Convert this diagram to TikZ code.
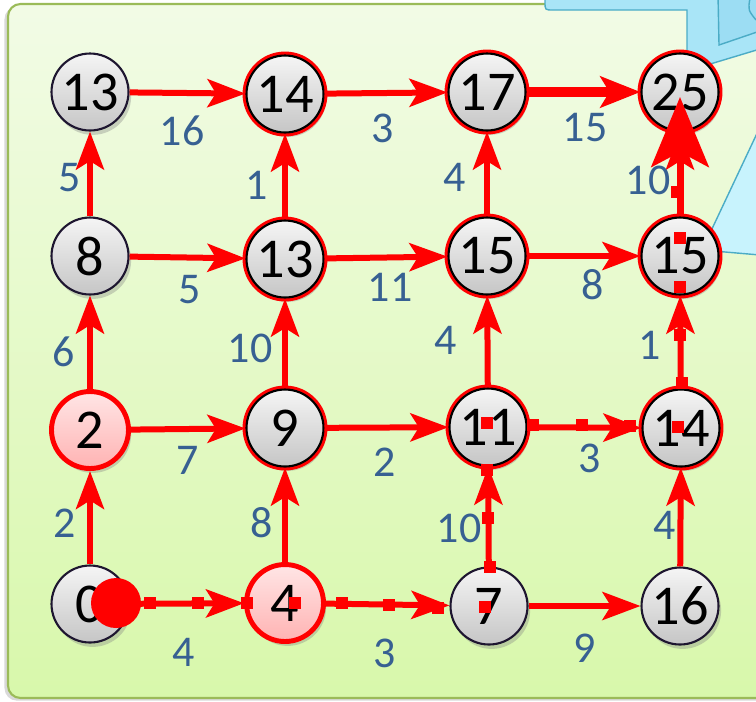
\documentclass[tikz,border=0pt]{standalone}
\usepackage{fontspec}
\setmainfont{Carlito}
\usetikzlibrary{arrows.meta,shadows}

\definecolor{bgtop}{HTML}{F2FBE6}
\definecolor{bgbot}{HTML}{D8F8AB}
\definecolor{bgline}{HTML}{9BBB59}
\definecolor{calltop}{HTML}{A9E5F7}
\definecolor{callin}{HTML}{9CDDF3}
\definecolor{calllow}{HTML}{C8F3FD}
\definecolor{callline}{HTML}{4BACC6}
\definecolor{wtext}{HTML}{376092}
\definecolor{rimdark}{HTML}{1E1630}

\begin{document}
\begin{tikzpicture}[
  x=0.02cm, y=-0.02cm,
  vnode/.style={circle, draw=rimdark, line width=1.2pt, top color=gray!8, bottom color=gray!45,
    minimum size=1.54cm, inner sep=0pt, font=\fontsize{32}{32}\selectfont,
    drop shadow={shadow xshift=1.5pt, shadow yshift=-2.5pt, opacity=0.35}},
  vring/.style={vnode, draw=black, preaction={draw=red, line width=4.5pt}},
  vdone/.style={vnode, draw=red, line width=2.8pt, top color=red!10, bottom color=red!30},
  edge/.style={draw=red, line width=0.12cm, -{Stealth[length=0.76cm, width=0.56cm, inset=0.17cm]}},
  wlabel/.style={text=wtext, font=\fontsize{25}{25}\selectfont, inner sep=0pt},
  pathsq/.style={fill=red, minimum size=0.24cm, inner sep=0pt}
]
  \useasboundingbox (0,0) rectangle (756,701);

  % --- Fondo y llamada ---
  \draw[bgline, line width=1.2pt, rounded corners=0.25cm, top color=bgtop, bottom color=bgbot,
    drop shadow={shadow xshift=-2pt, shadow yshift=-1.5pt, opacity=0.3}]
    (8,4) rectangle (800,698);
  \filldraw[fill=calltop, draw=callline, line width=0.8pt]
    (545,-5) -- (545,2) .. controls (545,10) .. (553,10) -- (687,10) -- (687,71) -- (760,49) -- (760,-5) -- cycle;
  \filldraw[fill=callin, draw=callline, line width=0.8pt] (718,-5) -- (719,45) -- (760,31) -- (760,-5) -- cycle;
  \draw[callline, line width=0.8pt] (750,-2) .. controls (748,10) .. (756,20);
  \filldraw[fill=calllow, draw=callline, line width=0.8pt] (760,127) -- (702,250) -- (760,255) -- cycle;

  % --- Vértices ---
  \node[vnode] (v11) at (90,92)  {13};
  \node[vring] (v12) at (285,94) {14};
  \node[vring] (v13) at (487,92) {17};
  \node[vring] (v14) at (680,92) {25};

  \node[vnode] (v21) at (90,256)  {8};
  \node[vring] (v22) at (285,259) {13};
  \node[vring] (v23) at (487,256) {15};
  \node[vring] (v24) at (680,256) {15};

  \node[vdone] (v31) at (90,430)  {2};
  \node[vring] (v32) at (285,428) {9};
  \node[vring] (v33) at (488,427) {11};
  \node[vring] (v34) at (681,428) {14};

  \node[vnode] (v41) at (90,604)  {0};
  \node[vdone] (v42) at (285,603) {4};
  \node[vnode] (v43) at (489,606) {7};
  \node[vnode] (v44) at (680,606) {16};

  % --- Aristas horizontales ---
  \draw[edge] (v11) -- (v12);
  \draw[edge] (v12) -- (v13);
  \draw[edge, line width=0.2cm, -{Stealth[length=0.8cm, width=0.62cm, inset=0.18cm]}] (v13) -- (v14);
  \draw[edge] (v21) -- (v22);
  \draw[edge] (v22) -- (v23);
  \draw[edge] (v23) -- (v24);
  \draw[edge] (v31) -- (v32);
  \draw[edge] (v32) -- (v33);
  \draw[edge] (v33) -- (v34);
  \draw[edge] (v41) -- (v42);
  \draw[edge] (v42) -- (v43);
  \draw[edge] (v43) -- (v44);

  % --- Aristas verticales ---
  \draw[edge] (v41) -- (v31);
  \draw[edge] (v31) -- (v21);
  \draw[edge] (v21) -- (v11);
  \draw[edge] (v42) -- (v32);
  \draw[edge] (v32) -- (v22);
  \draw[edge] (v22) -- (v12);
  \draw[edge] (v43) -- (v33);
  \draw[edge] (v33) -- (v23);
  \draw[edge] (v23) -- (v13);
  \draw[edge] (v44) -- (v34);
  \draw[edge] (v34) -- (v24);
  \draw[edge] (v24) -- (v14);

  % --- Camino resaltado ---
  \draw[red, line width=0.14cm, -{Stealth[length=1.4cm, width=1.15cm, inset=0.3cm]}]
    (v24.north) -- ([yshift=-0.1cm]v14.center);
  \foreach \x/\y [count=\i] in {150/603, 198/603, 247/603, 295/603, 342/603, 389/605, 438/608,
      485/607, 490/567, 488/518, 487/470, 487/423, 533/425, 582/425, 630/426, 678/427,
      682/383, 680/335, 680/287, 680/238, 677/192}
    \node[pathsq] (q\i) at (\x,\y) {};
  \node[circle, fill=red, minimum size=1cm, inner sep=0pt] (dot) at (116,603) {};

  % --- Pesos ---
  \foreach \x/\y/\w [count=\i] in {182/131/16, 383/128/3, 585/128/15,
      70/178/5, 257/185/1, 455/177/4, 648/180/10,
      190/290/5, 390/287/11, 593/285/8,
      64/352/6, 250/348/10, 446/340/4, 650/345/1,
      188/460/7, 385/462/2, 590/458/3,
      65/523/2, 262/523/8, 459/528/10, 665/525/4,
      184/652/4, 385/653/3, 585/648/9}
    \node[wlabel] (w\i) at (\x,\y) {\w};

\end{tikzpicture}
\end{document}
